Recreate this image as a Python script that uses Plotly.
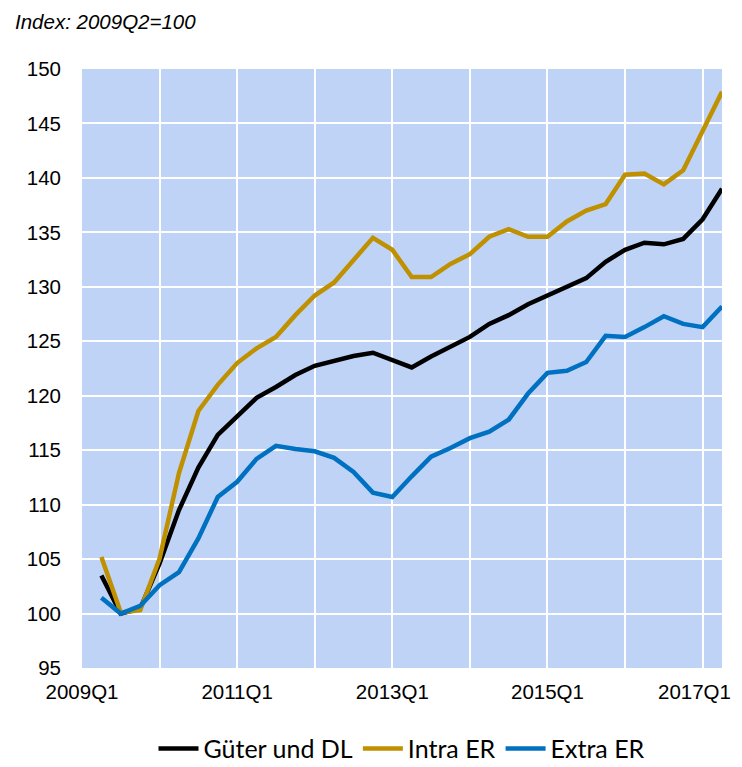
import plotly.graph_objects as go

# quarterly index, 2009Q2 = 100
quarters = [f"{y}Q{q}" for y in range(2009, 2018) for q in range(1, 5)][:33]  # 2009Q1 .. 2017Q1

gueter_dl = [103.5, 100.0, 100.45, 104.6, 109.5, 113.4, 116.4, 118.1, 119.8, 120.8,
             121.9, 122.75, 123.2, 123.65, 123.95, 123.3, 122.6, 123.6, 124.5, 125.4,
             126.6, 127.4, 128.4, 129.2, 130.0, 130.8, 132.3, 133.4, 134.05, 133.9,
             134.4, 136.2, 139.0]
intra_er = [105.2, 100.1, 100.3, 105.05, 112.9, 118.6, 121.0, 123.0, 124.35, 125.4,
            127.4, 129.2, 130.4, 132.4, 134.5, 133.4, 130.9, 130.9, 132.1, 133.0,
            134.6, 135.3, 134.6, 134.6, 136.0, 137.0, 137.6, 140.3, 140.4, 139.4,
            140.7, 144.3, 147.9]
extra_er = [101.45, 100.0, 100.7, 102.6, 103.8, 106.9, 110.7, 112.1, 114.2, 115.4,
            115.1, 114.9, 114.3, 113.0, 111.1, 110.7, 112.6, 114.4, 115.2, 116.1,
            116.7, 117.8, 120.2, 122.1, 122.3, 123.1, 125.5, 125.4, 126.3, 127.3,
            126.6, 126.3, 128.2]

series = [("Güter und DL", gueter_dl, "#000000"),
          ("Intra ER", intra_er, "#BF9000"),
          ("Extra ER", extra_er, "#0070C0")]

# x position = quarter index; labels sit at the start of a year (end of previous quarter)
x = list(range(len(quarters)))
tick_pos = [-1, 3, 7, 11, 15, 19, 23, 27, 31]
tick_txt = ["2009Q1", "", "2011Q1", "", "2013Q1", "", "2015Q1", "", ""]
last_label = "2017Q1"  # drawn separately so it isn't clipped at the right edge

fig = go.Figure()
for name, vals, col in series:
    fig.add_trace(go.Scatter(x=x, y=vals, name=name, mode="lines",
                             line=dict(color=col, width=4.5)))

font = "Liberation Sans, Arial, sans-serif"
# page body has an 8px margin, so the figure is 8px smaller than the window
fig.update_layout(
    width=734, height=759,
    margin=dict(l=74, r=20, t=61, b=99),
    paper_bgcolor="white", plot_bgcolor="#BFD3F7",
    font=dict(family=font, size=20.5, color="#000"),
    showlegend=True,
    legend=dict(orientation="h", x=0.5, xanchor="center",
                yref="container", y=0.024, yanchor="middle",
                font=dict(family="Lato, Carlito, sans-serif", size=25),
                itemwidth=40, traceorder="normal"),
    xaxis=dict(range=[-1, 32], tickvals=tick_pos, ticktext=tick_txt,
               showgrid=True, gridcolor="white", gridwidth=1.5, automargin=False,
               zeroline=False, ticks="", ticklabelstandoff=9),
    yaxis=dict(range=[95, 150], dtick=5, tick0=95, automargin=False,
               showgrid=True, gridcolor="white", gridwidth=1.5,
               zeroline=False, ticks="", ticklabelstandoff=20),
)
fig.add_annotation(text="<i>Index: 2009Q2=100</i>", xref="paper", yref="paper",
                   x=-0.108, y=1.079, xanchor="left", yanchor="middle",
                   showarrow=False, font=dict(family=font, size=20.5))
fig.add_annotation(text=last_label, xref="x", yref="paper", x=tick_pos[-1], y=0,
                   xanchor="right", yanchor="top", xshift=30, yshift=-10,
                   showarrow=False, font=dict(family=font, size=20.5))

fig.write_html("out.html")
